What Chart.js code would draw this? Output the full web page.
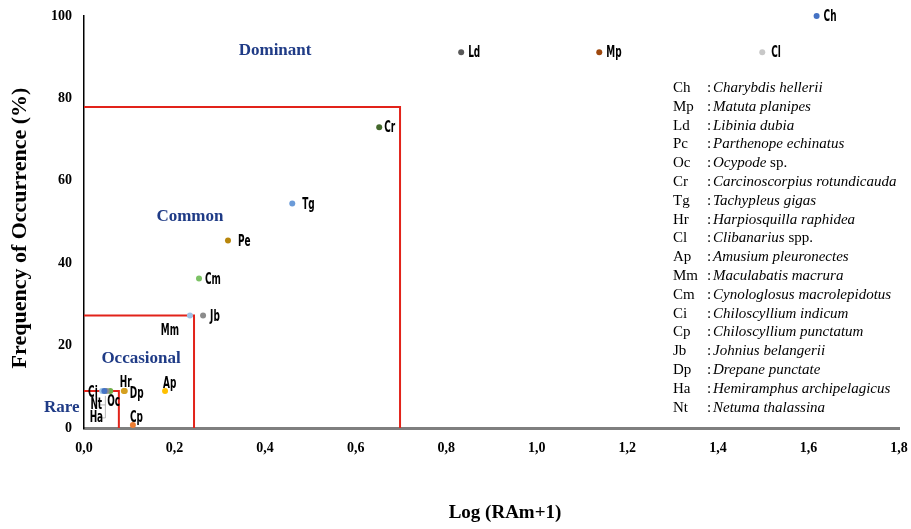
<!DOCTYPE html>
<html>
<head>
<meta charset="utf-8">
<script src="https://cdn.jsdelivr.net/npm/chart.js@4.4.0/dist/chart.umd.min.js"></script>
<style>
  html, body { margin: 0; padding: 0; background: #fff; }
</style>
</head>
<body>
<canvas id="chart" width="911" height="529"></canvas>
<script>
// Species plotted (label codes as printed on the chart)
const codes  = ['Ch', 'Mp', 'Ld', 'Pe', 'Oc', 'Cr', 'Tg', 'Hr', 'Cl', 'Ap', 'Mm', 'Cm', 'Ci', 'Cp', 'Jb', 'Dp', 'Ha', 'Nt'];
const logRAm = [1.618, 1.138, 0.833, 0.318, 0.058, 0.652, 0.460, 0.088, 1.498, 0.179, 0.234, 0.254, 0.040, 0.108, 0.263, 0.090, 0.050, 0.045];
const freq   = [100, 91.2, 91.2, 45.5, 9.0, 73.0, 54.5, 9.0, 91.2, 9.0, 27.3, 36.3, 9.0, 0.7, 27.3, 9.0, 9.0, 9.0];

// Zone boundaries (Rare, Occasional, Common)
const zoneX = [0.077, 0.243, 0.698];
const zoneY = [9.0, 27.3, 77.9];

// Zone names and where they are written (data units)
const zoneNames = ['Dominant', 'Common', 'Occasional', 'Rare'];
const zoneNameX = [0.422, 0.234, 0.126, -0.049];
const zoneNameY = [91.5, 51.3, 16.8, 4.9];

// Axis ticks
const xTicks = [0, 0.2, 0.4, 0.6, 0.8, 1.0, 1.2, 1.4, 1.6, 1.8];
const yTicks = [0, 20, 40, 60, 80, 100];

// Key on the right
const keyCodes = ['Ch', 'Mp', 'Ld', 'Pc', 'Oc', 'Cr', 'Tg', 'Hr', 'Cl', 'Ap', 'Mm', 'Cm', 'Ci', 'Cp', 'Jb', 'Dp', 'Ha', 'Nt'];
const keyNames = ['Charybdis hellerii', 'Matuta planipes', 'Libinia dubia', 'Parthenope echinatus', 'Ocypode sp.',
  'Carcinoscorpius rotundicauda', 'Tachypleus gigas', 'Harpiosquilla raphidea', 'Clibanarius spp.',
  'Amusium pleuronectes', 'Maculabatis macrura', 'Cynologlosus macrolepidotus', 'Chiloscyllium indicum',
  'Chiloscyllium punctatum', 'Johnius belangerii', 'Drepane punctate', 'Hemiramphus archipelagicus', 'Netuma thalassina'];

// Styling
const pointColors = {
  Ch: '#4472c4', Mp: '#9e480e', Ld: '#595959', Pe: '#b8860b', Oc: '#70ad47', Cr: '#43682b',
  Tg: '#6b9bd8', Hr: '#d4a020', Cl: '#c8c8c8', Ap: '#ffc000', Mm: '#9dc3e6', Cm: '#7cc265',
  Ci: '#9dc3e6', Cp: '#ed7d31', Jb: '#8c8c8c', Dp: '#d4a020', Ha: '#8c8c8c', Nt: '#4472c4'
};
// label offset from point in px: [dx, dy, align]
const labelPlace = {
  Ch: [7, 1, 'left'], Mp: [7, 1, 'left'], Ld: [7, 1, 'left'], Cl: [9, 1, 'left'], Cr: [5, 1, 'left'],
  Tg: [10, 1, 'left'], Pe: [10, 1, 'left'], Cm: [6, 1, 'left'], Jb: [7, 1, 'left'],
  Mm: [-20, 15, 'center'], Ap: [-2, -7, 'left'], Hr: [-4, -8, 'left'], Dp: [5, 3, 'left'],
  Cp: [-3, -7, 'left'], Oc: [-3, 11, 'left'], Ci: [-14, 2, 'left'], Nt: [-14, 14, 'left'], Ha: [-17, 27, 'left']
};
const navy = '#1f3b86';
const serif = '"Liberation Serif", "Times New Roman", serif';
const narrow = '"DejaVu Sans Condensed", "Liberation Sans Narrow", sans-serif';

const points = codes.map((c, i) => ({ x: logRAm[i], y: freq[i], code: c }));
const zoneSets = zoneX.map((zx, i) => ({
  data: [{ x: 0, y: zoneY[i] }, { x: zx, y: zoneY[i] }, { x: zx, y: 0 }],
  showLine: true, borderColor: '#e2231a', borderWidth: 2, pointRadius: 0, fill: false
}));

const overlay = {
  id: 'overlay',
  afterDraw(chart) {
    const { ctx, scales: { x, y } } = chart;
    ctx.save();

    // leader lines for the crowded rare cluster
    ctx.strokeStyle = '#a6a6a6';
    ctx.lineWidth = 0.8;
    const px = x.getPixelForValue(0.045), py = y.getPixelForValue(9.0);
    ctx.beginPath();
    ctx.moveTo(px + 1, py + 5); ctx.lineTo(px + 1, py + 27);
    ctx.moveTo(px - 5, py + 14); ctx.lineTo(px + 1, py + 14);
    ctx.moveTo(px - 5, py + 27); ctx.lineTo(px + 1, py + 27);
    ctx.stroke();

    // data labels (condensed)
    ctx.fillStyle = '#000';
    ctx.font = 'bold 16px ' + narrow;
    ctx.textBaseline = 'middle';
    points.forEach(p => {
      const [dx, dy, align] = labelPlace[p.code];
      ctx.save();
      ctx.translate(x.getPixelForValue(p.x) + dx, y.getPixelForValue(p.y) + dy);
      ctx.scale(0.62, 1);
      ctx.textAlign = align;
      ctx.fillText(p.code, 0, 0);
      ctx.restore();
    });

    // zone names
    ctx.fillStyle = navy;
    ctx.font = 'bold 17px ' + serif;
    ctx.textAlign = 'center';
    zoneNames.forEach((t, i) => {
      ctx.fillText(t, x.getPixelForValue(zoneNameX[i]), y.getPixelForValue(zoneNameY[i]));
    });

    // key
    ctx.fillStyle = '#000';
    ctx.textAlign = 'left';
    keyCodes.forEach((c, i) => {
      const ly = 88 + i * 18.8;
      ctx.font = '15px ' + serif;
      ctx.fillText(c, 673, ly);
      ctx.fillText(':', 707, ly);
      const m = keyNames[i].match(/^(.*?)( spp?\.)?$/);
      ctx.font = 'italic 15px ' + serif;
      ctx.fillText(m[1], 713, ly);
      if (m[2]) {
        const w = ctx.measureText(m[1]).width;
        ctx.font = '15px ' + serif;
        ctx.fillText(m[2], 713 + w, ly);
      }
    });

    // axis titles
    ctx.font = 'bold 19px ' + serif;
    ctx.textAlign = 'center';
    ctx.fillText('Log (RAm+1)', 505, 513);
    ctx.font = 'bold 22px ' + serif;
    ctx.translate(20, 228);
    ctx.rotate(-Math.PI / 2);
    ctx.fillText('Frequency of Occurrence (%)', 0, 0);
    ctx.restore();
  }
};

new Chart(document.getElementById('chart'), {
  type: 'scatter',
  data: {
    datasets: [
      {
        data: points,
        pointRadius: 3,
        pointHoverRadius: 3,
        pointBorderWidth: 0,
        pointBackgroundColor: points.map(p => pointColors[p.code]),
        clip: false
      },
      ...zoneSets
    ]
  },
  options: {
    responsive: false,
    animation: false,
    devicePixelRatio: 1,
    layout: { padding: { top: 16, right: 12, left: 0, bottom: 0 } },
    plugins: { legend: { display: false }, tooltip: { enabled: false } },
    scales: {
      x: {
        type: 'linear', min: 0, max: 1.8,
        afterBuildTicks: s => { s.ticks = xTicks.map(v => ({ value: v })); },
        afterFit: s => { s.height = 101; s.paddingLeft = 0; s.paddingRight = 0; },
        grid: { display: false, drawTicks: false },
        border: { color: '#7f7f7f', width: 3 },
        ticks: {
          padding: 12, color: '#000',
          font: { family: serif, size: 14, weight: 'bold' },
          callback: v => v.toFixed(1).replace('.', ',')
        }
      },
      y: {
        type: 'linear', min: 0, max: 100,
        afterBuildTicks: s => { s.ticks = yTicks.map(v => ({ value: v })); },
        afterFit: s => { s.width = 84; s.paddingTop = 0; s.paddingBottom = 0; },
        grid: { display: false, drawTicks: false },
        border: { color: '#000', width: 1.5 },
        ticks: {
          padding: 12, color: '#000',
          font: { family: serif, size: 14, weight: 'bold' }
        }
      }
    }
  },
  plugins: [overlay]
});
</script>
</body>
</html>
